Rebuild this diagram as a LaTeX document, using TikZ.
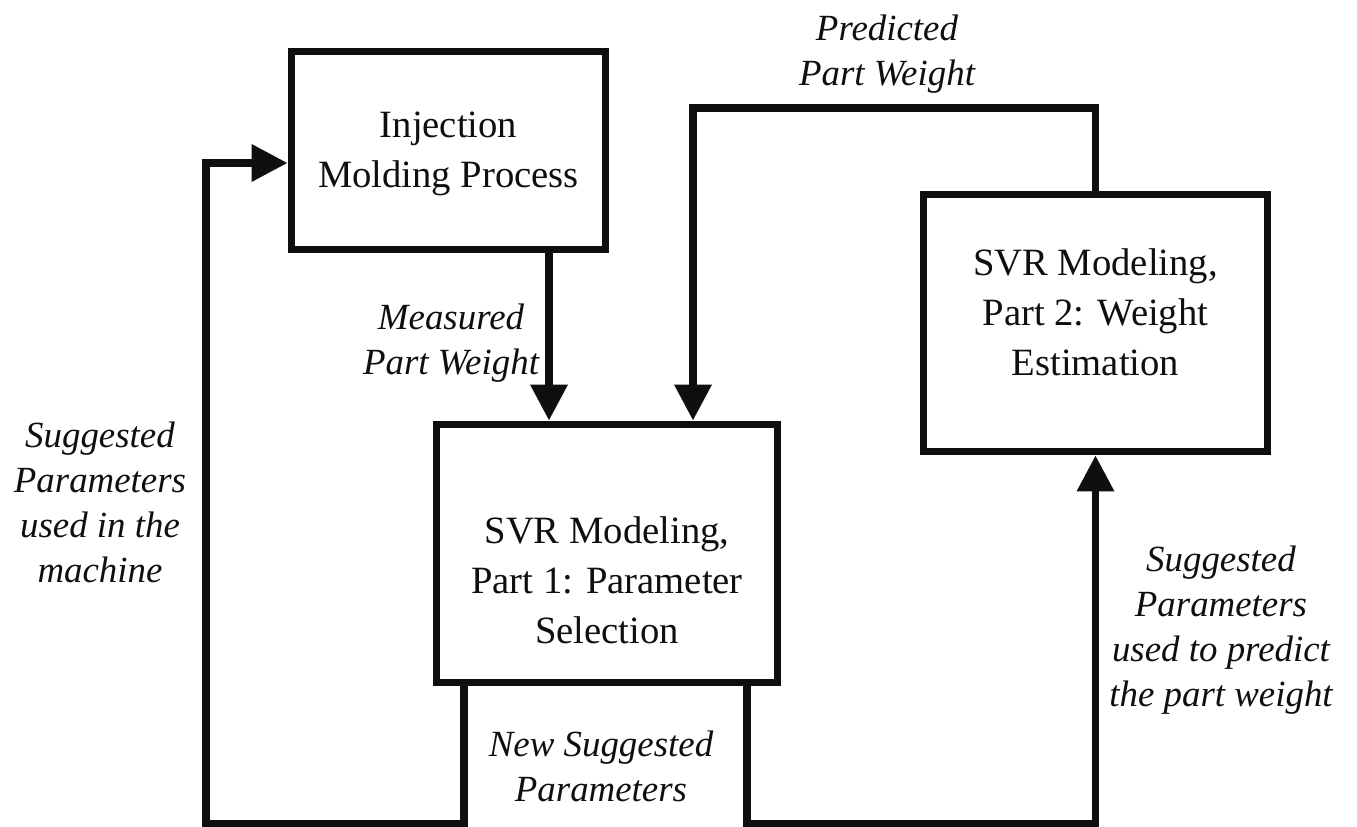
\documentclass[tikz,border=0pt]{standalone}
\usepackage{fontspec}
\setmainfont{Liberation Serif}
\usepackage{tikz}
\usetikzlibrary{arrows.meta, positioning, calc}
\definecolor{mydark}{RGB}{15,15,15}
\tikzset{
  block/.style={rectangle, draw=mydark, fill=white, line width=4pt,
    inner sep=0pt},
  blocktext/.style={align=center, font=\fontsize{22}{28.5}\selectfont,
    text=mydark},
  flowlabel/.style={align=center, font=\fontsize{21}{25.6}\selectfont\itshape,
    text=mydark},
  arrow/.style={-{Triangle[length=0.72cm, width=0.72cm]}, line width=4pt,
    color=mydark}
}

\begin{document}
\begin{tikzpicture}[x=0.02cm, y=-0.02cm]
  \useasboundingbox (0,0) rectangle (1357,827);
  \fill[white] (0,0) rectangle (1357,827);

  % Blocks
  \node[block, minimum width=6.3cm, minimum height=3.98cm] (inj) at (448.5,150.5) {};
  \node[block, minimum width=6.84cm, minimum height=5.18cm] (p1) at (607,553.5) {};
  \node[block, minimum width=6.9cm, minimum height=5.16cm] (p2) at (1095.5,323) {};

  % Block texts
  \node[blocktext] (injtxt) at (448.5,154) {Injection\\Molding Process};
  \node[blocktext] (p1txt) at (607,580) {SVR Modeling,\\Part 1: Parameter\\Selection};
  \node[blocktext] (p2txt) at (1095.5,312) {SVR Modeling,\\Part 2: Weight\\Estimation};

  % Routing points
  \coordinate (meas) at (549,0);
  \coordinate (ptop) at (693,108);
  \coordinate (lbot) at (464,824);
  \coordinate (lcorner) at (206,163);
  \coordinate (rbot) at (747,824);

  % Measured weight into part 1
  \draw[arrow] (inj.south -| meas) -- (p1.north -| meas);
  % Predicted weight back into part 1
  \draw[arrow] (p2.north) |- (ptop) -- (p1.north -| ptop);
  % Parameters to the machine
  \draw[arrow] (p1.south -| lbot) -- (lbot) -| (lcorner) -- (inj.west |- lcorner);
  % Parameters to part 2
  \draw[arrow] (p1.south -| rbot) -- (rbot) -| (p2.south);

  % Connector labels
  \node[flowlabel] (lblmeas) at (451,343) {Measured\\Part Weight};
  \node[flowlabel] (lblpred) at (887,54) {Predicted\\Part Weight};
  \node[flowlabel] (lblmach) at (100,502) {Suggested\\Parameters\\used in the\\machine};
  \node[flowlabel] (lblnew) at (601,766) {New Suggested\\Parameters};
  \node[flowlabel] (lblpart) at (1221,630) {Suggested\\Parameters\\used to predict\\the part weight};
\end{tikzpicture}
\end{document}
